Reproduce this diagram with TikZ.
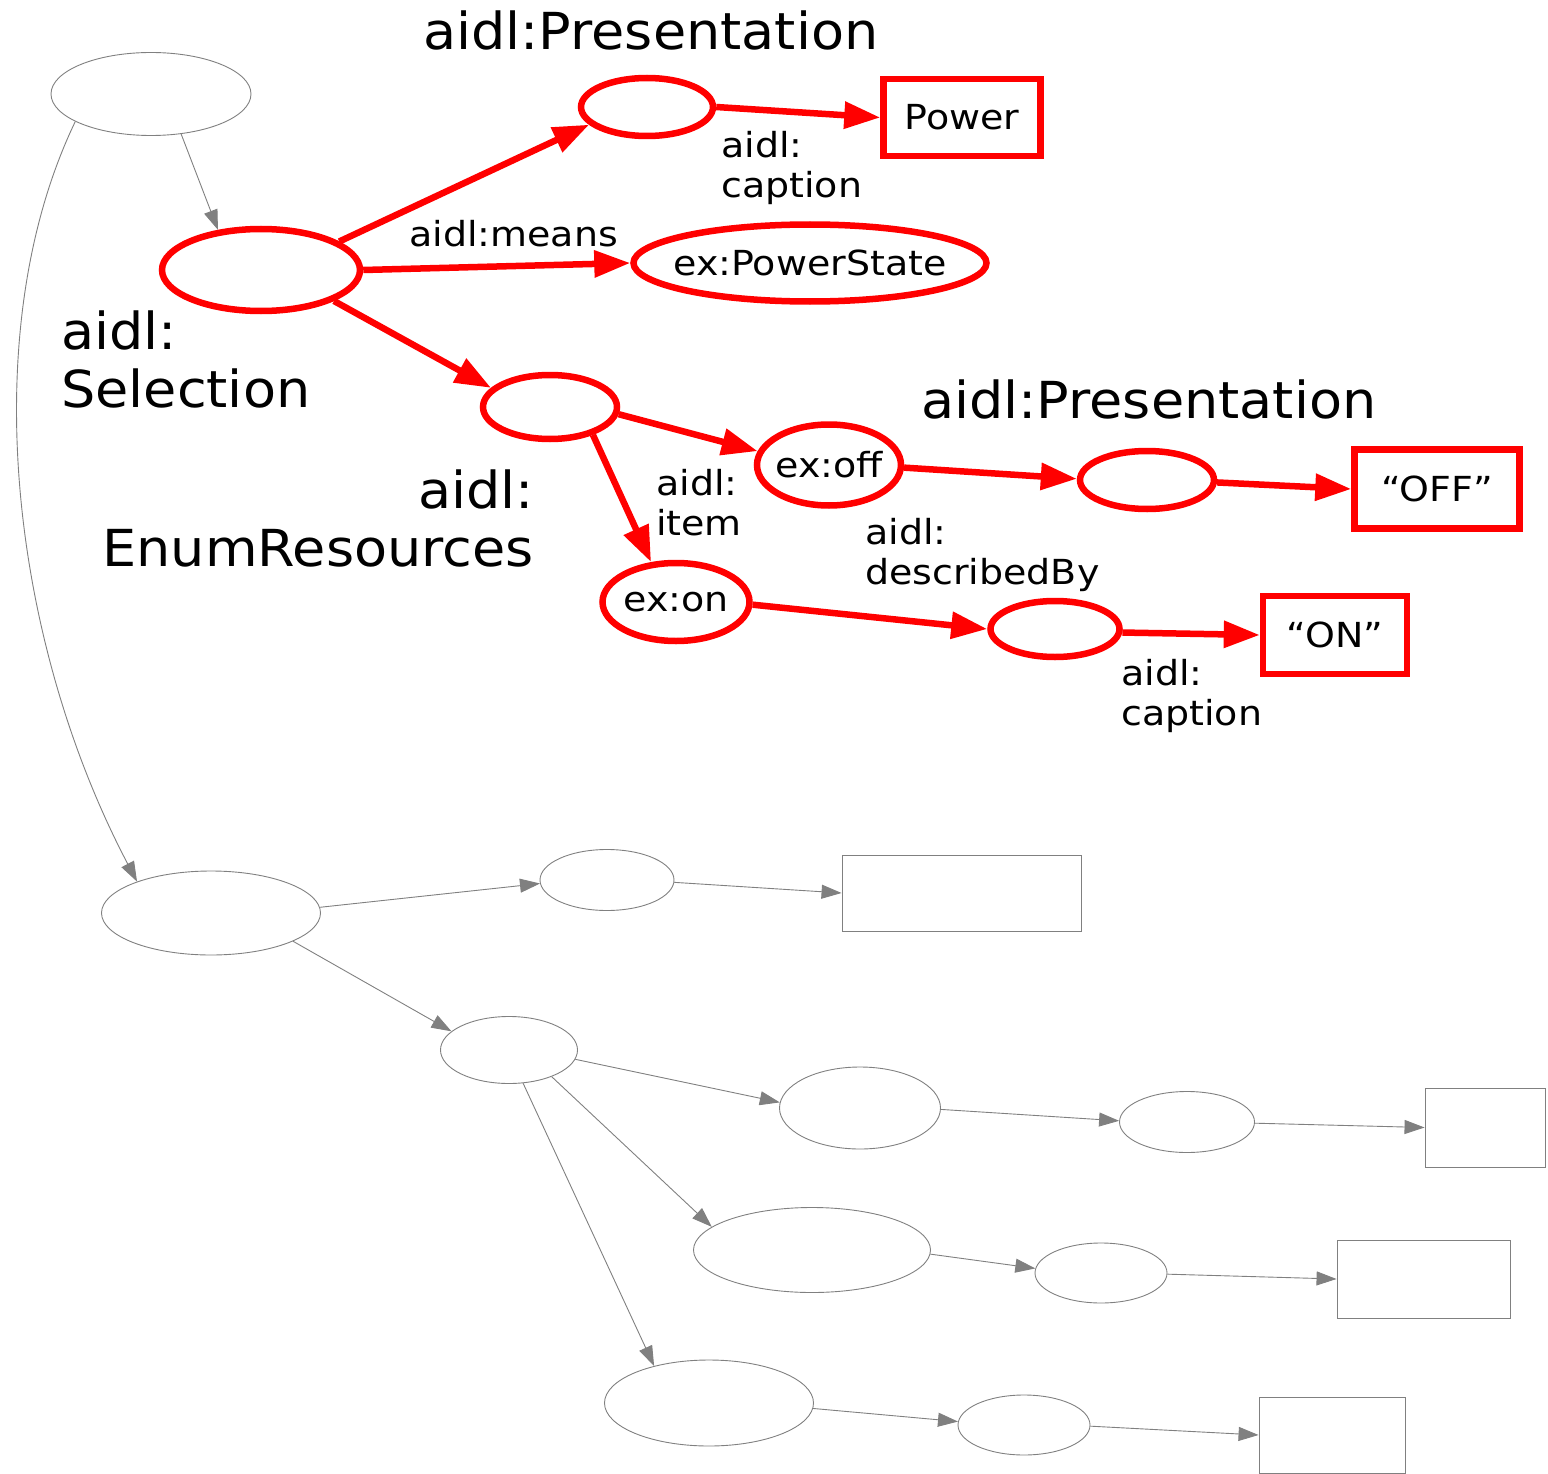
\documentclass[tikz,border=0pt]{standalone}
\usepackage{fontspec}
\setmainfont{DejaVu Sans}
\newfontfamily\bigfont[FakeStretch=1.06]{DejaVu Sans}
\newfontfamily\medfont[FakeStretch=1.1]{DejaVu Sans}
\usetikzlibrary{shapes.geometric,arrows.meta}

\tikzset{
  rdell/.style={ellipse, draw=red, line width=6.5pt, inner sep=0pt},
  rdbox/.style={rectangle, draw=red, line width=6.5pt, inner sep=0pt},
  gyell/.style={ellipse, draw=gray, line width=0.9pt, inner sep=0pt},
  gybox/.style={rectangle, draw=gray, line width=0.9pt, inner sep=0pt},
  rdedge/.style={draw=red, line width=6.5pt, -{Triangle[length=36pt,width=26pt]}},
  gyedge/.style={draw=gray, line width=0.9pt, -{Triangle[length=20pt,width=14pt]}},
  biglbl/.style={font=\bigfont\fontsize{51}{58}\selectfont, inner sep=0pt},
  medlbl/.style={font=\medfont\fontsize{34.5}{40}\selectfont, inner sep=0pt},
}

\begin{document}
\begin{tikzpicture}[x=1pt, y=-1pt]
\useasboundingbox (0,0) rectangle (1548,1474);

% ---------- upper (highlighted) graph ----------
\node[gyell, minimum width=200pt, minimum height=83pt] (topg) at (151,94) {};

\node[rdell, minimum width=198pt, minimum height=82pt] (sel) at (261,270) {};
\node[rdell, minimum width=132pt, minimum height=58pt] (pres1) at (647,107) {};
\node[rdbox, minimum width=157pt, minimum height=77pt, medlbl] (power) at (962,117.5) {Power};
\node[rdell, minimum width=353pt, minimum height=77pt, medlbl] (pstate) at (810,263) {\makebox[0pt]{ex:PowerState}};
\node[rdell, minimum width=134pt, minimum height=64pt] (enum) at (550,407) {};
\node[rdell, minimum width=144pt, minimum height=81pt, medlbl] (off) at (829,465) {\makebox[0pt]{ex:off}};
\node[rdell, minimum width=134pt, minimum height=58pt] (pres2) at (1147,480) {};
\node[rdbox, minimum width=165pt, minimum height=79pt, medlbl] (offtxt) at (1437,489) {“OFF”};
\node[rdell, minimum width=147pt, minimum height=78pt, medlbl] (on) at (676,602) {\makebox[0pt]{ex:on}};
\node[rdell, minimum width=129pt, minimum height=56pt] (pres3) at (1055,629) {};
\node[rdbox, minimum width=144pt, minimum height=78pt, medlbl] (ontxt) at (1335,635) {“ON”};

\draw[gyedge] (topg.-53) -- (sel.137);
\draw[rdedge] (sel.20) -- (pres1.197);
\draw[rdedge] (pres1.0) -- (power.west);
\draw[rdedge] (sel.0) -- (pstate.west);
\draw[rdedge] (sel.-23) -- (enum.162);
\draw[rdedge] (enum.-6) -- (off.169);
\draw[rdedge] (enum.-33) -- (on.122);
\draw[rdedge] (off.-2) -- (pres2.179);
\draw[rdedge] (pres2.-2) -- (offtxt.west);
\draw[rdedge] (on.-2) -- (pres3.180);
\draw[rdedge] (pres3.-3) -- (ontxt.west);

% labels (multi-line labels are placed by the baseline of their last line)
\node[biglbl, anchor=base west] (lpres1) at (423,50) {aidl:Presentation};
\node[biglbl, anchor=base west] (lpres2) at (921,418) {aidl:Presentation};
\node[biglbl, anchor=base west, align=left] (lsel) at (61,407) {aidl:\\Selection};
\node[biglbl, anchor=base east, align=right] (lenum) at (534,566) {aidl:\\EnumResources};
\node[medlbl, anchor=base west] (lmeans) at (409,247) {aidl:means};
\node[medlbl, anchor=base west, align=left] (lcap1) at (721,198) {aidl:\\caption};
\node[medlbl, anchor=base west, align=left] (litem) at (656,535) {aidl:\\item};
\node[medlbl, anchor=base west, align=left] (ldesc) at (865,584) {aidl:\\describedBy};
\node[medlbl, anchor=base west, align=left] (lcap2) at (1121,725) {aidl:\\caption};

% ---------- lower (plain) graph ----------
\node[gyell, minimum width=219pt, minimum height=84pt] (ga) at (211,913) {};
\node[gyell, minimum width=134pt, minimum height=61pt] (gb) at (607,880) {};
\node[gybox, minimum width=239pt, minimum height=76pt] (gc) at (961.5,893) {};
\node[gyell, minimum width=137pt, minimum height=67pt] (gd) at (509,1050) {};
\node[gyell, minimum width=161pt, minimum height=82pt] (ge) at (860,1108) {};
\node[gyell, minimum width=135pt, minimum height=61pt] (gf) at (1187,1122) {};
\node[gybox, minimum width=120pt, minimum height=79pt] (gg) at (1485,1127.5) {};
\node[gyell, minimum width=237pt, minimum height=85pt] (gh) at (812,1250) {};
\node[gyell, minimum width=132pt, minimum height=60pt] (gi) at (1101,1273) {};
\node[gybox, minimum width=173pt, minimum height=78pt] (gj) at (1423.5,1279) {};
\node[gyell, minimum width=209pt, minimum height=86pt] (gk) at (709,1403) {};
\node[gyell, minimum width=132pt, minimum height=60pt] (gl) at (1024,1425) {};
\node[gybox, minimum width=146pt, minimum height=76pt] (gm) at (1332,1435) {};

\draw[gyedge] (topg.200) .. controls (-25,330) and (10,640) .. (ga.157);
\draw[gyedge] (ga.3) -- (gb.183);
\draw[gyedge] (gb.-2) -- (gc.west);
\draw[gyedge] (ga.-19) -- (gd.162);
\draw[gyedge] (gd.-8) -- (ge.176);
\draw[gyedge] (gd.-32) -- (gh.167);
\draw[gyedge] (gd.-67) -- (gk.146);
\draw[gyedge] (ge.-1) -- (gf.179);
\draw[gyedge] (gf.-1) -- (gg.west);
\draw[gyedge] (gh.-2) -- (gi.176);
\draw[gyedge] (gi.-1) -- (gj.west);
\draw[gyedge] (gk.-3) -- (gl.177);
\draw[gyedge] (gl.-1) -- (gm.west);
\end{tikzpicture}
\end{document}
